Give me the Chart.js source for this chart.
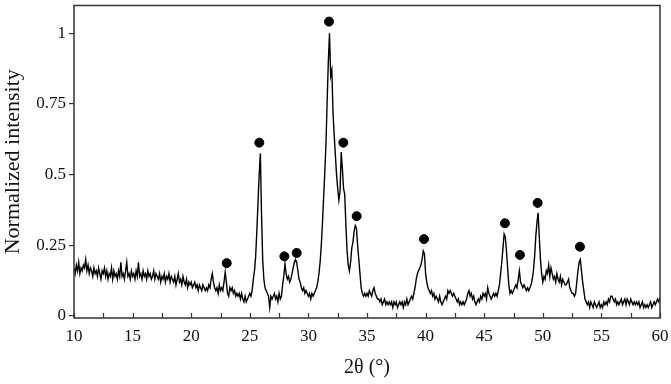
<!DOCTYPE html>
<html>
<head>
<meta charset="utf-8">
<script src="https://cdn.jsdelivr.net/npm/chart.js@4/dist/chart.umd.min.js"></script>
<style>
html,body{margin:0;padding:0;background:#fff;}
#wrap{width:671px;height:384px;}
</style>
</head>
<body>
<div id="wrap"><canvas id="c" width="671" height="384"></canvas></div>
<script>
// 2θ grid: start and step in degrees
const thetaStart = 10;
const thetaStep = 0.1;
// Normalized intensity, one value every 0.1° from 10° to 60°
const intensity = [
0.17,0.15,0.18,0.16,0.19,0.15,0.17,0.16,0.18,0.17,
0.20,0.16,0.18,0.15,0.17,0.16,0.14,0.17,0.15,0.16,
0.14,0.17,0.15,0.13,0.16,0.15,0.17,0.14,0.16,0.13,
0.15,0.14,0.17,0.13,0.16,0.14,0.15,0.13,0.16,0.14,
0.19,0.14,0.15,0.13,0.16,0.19,0.14,0.15,0.13,0.16,
0.14,0.15,0.13,0.16,0.14,0.19,0.14,0.15,0.13,0.16,
0.14,0.15,0.13,0.16,0.14,0.15,0.13,0.14,0.16,0.13,
0.15,0.14,0.13,0.15,0.12,0.14,0.13,0.15,0.12,0.14,
0.13,0.15,0.12,0.14,0.13,0.12,0.14,0.11,0.13,0.15,
0.12,0.13,0.11,0.14,0.12,0.11,0.13,0.10,0.12,0.11,
0.12,0.10,0.11,0.12,0.10,0.11,0.09,0.11,0.10,0.09,
0.11,0.10,0.09,0.10,0.09,0.11,0.10,0.13,0.15,0.12,
0.10,0.09,0.10,0.08,0.11,0.09,0.10,0.09,0.12,0.155,
0.12,0.08,0.07,0.10,0.09,0.10,0.08,0.09,0.07,0.08,
0.07,0.08,0.06,0.08,0.06,0.05,0.07,0.05,0.06,0.07,
0.08,0.07,0.09,0.13,0.16,0.21,0.30,0.40,0.50,0.575,
0.36,0.20,0.13,0.10,0.09,0.08,0.07,0.03,0.07,0.06,
0.07,0.08,0.06,0.07,0.05,0.08,0.06,0.07,0.11,0.14,
0.184,0.15,0.13,0.14,0.12,0.13,0.15,0.17,0.19,0.20,
0.19,0.16,0.13,0.12,0.10,0.09,0.10,0.08,0.09,0.08,
0.07,0.08,0.06,0.08,0.07,0.08,0.09,0.10,0.12,0.15,
0.19,0.25,0.33,0.42,0.51,0.61,0.76,0.90,1.00,0.85,
0.87,0.72,0.64,0.57,0.50,0.45,0.41,0.44,0.58,0.52,
0.45,0.43,0.32,0.23,0.18,0.16,0.19,0.24,0.26,0.30,
0.32,0.31,0.25,0.20,0.15,0.10,0.08,0.07,0.08,0.07,
0.08,0.07,0.09,0.08,0.07,0.09,0.10,0.08,0.07,0.06,
0.06,0.05,0.06,0.04,0.05,0.06,0.04,0.05,0.04,0.05,
0.04,0.05,0.03,0.05,0.04,0.05,0.03,0.04,0.05,0.04,
0.05,0.03,0.05,0.04,0.06,0.04,0.05,0.06,0.07,0.06,
0.08,0.10,0.13,0.15,0.16,0.17,0.18,0.20,0.23,0.22,
0.15,0.12,0.10,0.09,0.08,0.09,0.07,0.08,0.06,0.07,
0.06,0.05,0.07,0.05,0.04,0.05,0.06,0.07,0.06,0.09,
0.08,0.09,0.08,0.07,0.08,0.07,0.06,0.05,0.06,0.04,
0.05,0.04,0.05,0.04,0.05,0.06,0.08,0.09,0.07,0.08,
0.06,0.07,0.05,0.04,0.05,0.06,0.05,0.07,0.06,0.08,
0.07,0.08,0.06,0.10,0.08,0.07,0.06,0.07,0.08,0.07,
0.08,0.07,0.09,0.11,0.15,0.19,0.24,0.29,0.28,0.23,
0.17,0.11,0.08,0.09,0.08,0.09,0.10,0.11,0.10,0.13,
0.16,0.12,0.11,0.10,0.11,0.10,0.09,0.10,0.09,0.10,
0.11,0.13,0.16,0.21,0.28,0.33,0.365,0.28,0.20,0.15,
0.12,0.14,0.13,0.16,0.15,0.18,0.14,0.17,0.15,0.13,
0.14,0.12,0.15,0.13,0.12,0.14,0.11,0.13,0.12,0.11,
0.11,0.12,0.13,0.10,0.09,0.08,0.08,0.07,0.08,0.12,
0.16,0.19,0.20,0.16,0.12,0.09,0.06,0.05,0.04,0.05,
0.03,0.05,0.04,0.03,0.05,0.04,0.03,0.04,0.05,0.03,
0.04,0.03,0.05,0.04,0.05,0.04,0.06,0.05,0.07,0.07,
0.06,0.05,0.06,0.04,0.05,0.04,0.05,0.06,0.04,0.05,
0.06,0.04,0.06,0.05,0.04,0.06,0.05,0.04,0.05,0.04,
0.05,0.04,0.05,0.03,0.04,0.05,0.03,0.04,0.03,0.04,
0.03,0.04,0.05,0.03,0.04,0.05,0.04,0.05,0.06,0.05,
0.065
];
// Peak markers (filled circles)
const markerTheta = [23.03, 25.81, 27.95, 29.0, 31.76, 32.98, 34.12, 39.86, 46.77, 48.05, 49.56, 53.17];
const markerY     = [0.187, 0.613, 0.211, 0.223, 1.041, 0.613, 0.353, 0.272, 0.328, 0.216, 0.40, 0.245];
// Axis ticks
const xTickLabels = [10, 15, 20, 25, 30, 35, 40, 45, 50, 55, 60];
const yTickLabels = [0, 0.25, 0.5, 0.75, 1];

const linePoints = intensity.map((v, i) => ({x: +(thetaStart + i * thetaStep).toFixed(2), y: v}));
const markerPoints = markerTheta.map((t, i) => ({x: t, y: markerY[i]}));

const FONT = "'Liberation Serif', 'Times New Roman', serif";

const framePlugin = {
  id: 'frame',
  afterDraw(chart) {
    const {ctx, chartArea: a, scales: {x}} = chart;
    ctx.save();
    ctx.strokeStyle = '#333';
    ctx.lineWidth = 1.5;
    ctx.strokeRect(a.left, a.top, a.right - a.left, a.bottom - a.top);
    ctx.lineWidth = 1.2;
    ctx.beginPath();
    x.ticks.forEach(t => {
      const px = Math.round(x.getPixelForValue(t.value)) + 0.5;
      ctx.moveTo(px, a.bottom);
      ctx.lineTo(px, a.bottom - 5);
    });
    ctx.stroke();
    ctx.restore();
  }
};

new Chart(document.getElementById('c'), {
  type: 'line',
  data: {
    datasets: [
      {
        data: linePoints,
        borderColor: '#000',
        borderWidth: 1.4,
        pointRadius: 0,
        tension: 0,
        fill: false
      },
      {
        type: 'scatter',
        data: markerPoints,
        pointRadius: 4.5,
        pointBackgroundColor: '#000',
        pointBorderColor: '#000',
        showLine: false
      }
    ]
  },
  options: {
    responsive: false,
    animation: false,
    devicePixelRatio: 1,
    layout: {padding: {left: 0, right: 11, top: 2, bottom: 0}},
    plugins: {legend: {display: false}, tooltip: {enabled: false}},
    scales: {
      x: {
        type: 'linear',
        min: 10, max: 60,
        afterFit(s) { s.height = 66; s.paddingLeft = 0; s.paddingRight = 0; },
        border: {display: false},
        grid: {display: false, drawTicks: false},
        ticks: {
          stepSize: 2.5, autoSkip: false, maxRotation: 0, padding: 8,
          color: '#111', font: {family: FONT, size: 17},
          callback: v => xTickLabels.includes(v) ? String(v) : ''
        },
        title: {display: true, text: '2θ (°)', color: '#111', font: {family: FONT, size: 20}, padding: {top: 0, bottom: 4}}
      },
      y: {
        min: -0.007, max: 1.098,
        afterFit(s) { s.width = 74; s.paddingTop = 0; s.paddingBottom = 0; },
        border: {display: false},
        grid: {drawOnChartArea: false, drawTicks: true, tickLength: 5, color: '#333', lineWidth: 1.2},
        ticks: {
          stepSize: 0.25, includeBounds: false, padding: 3,
          color: '#111', font: {family: FONT, size: 17},
          callback: v => yTickLabels.includes(v) ? String(v) : ''
        },
        title: {display: true, text: 'Normalized intensity', color: '#111', font: {family: FONT, size: 22}, padding: {top: 0, bottom: 0}}
      }
    }
  },
  plugins: [framePlugin]
});
</script>
</body>
</html>
